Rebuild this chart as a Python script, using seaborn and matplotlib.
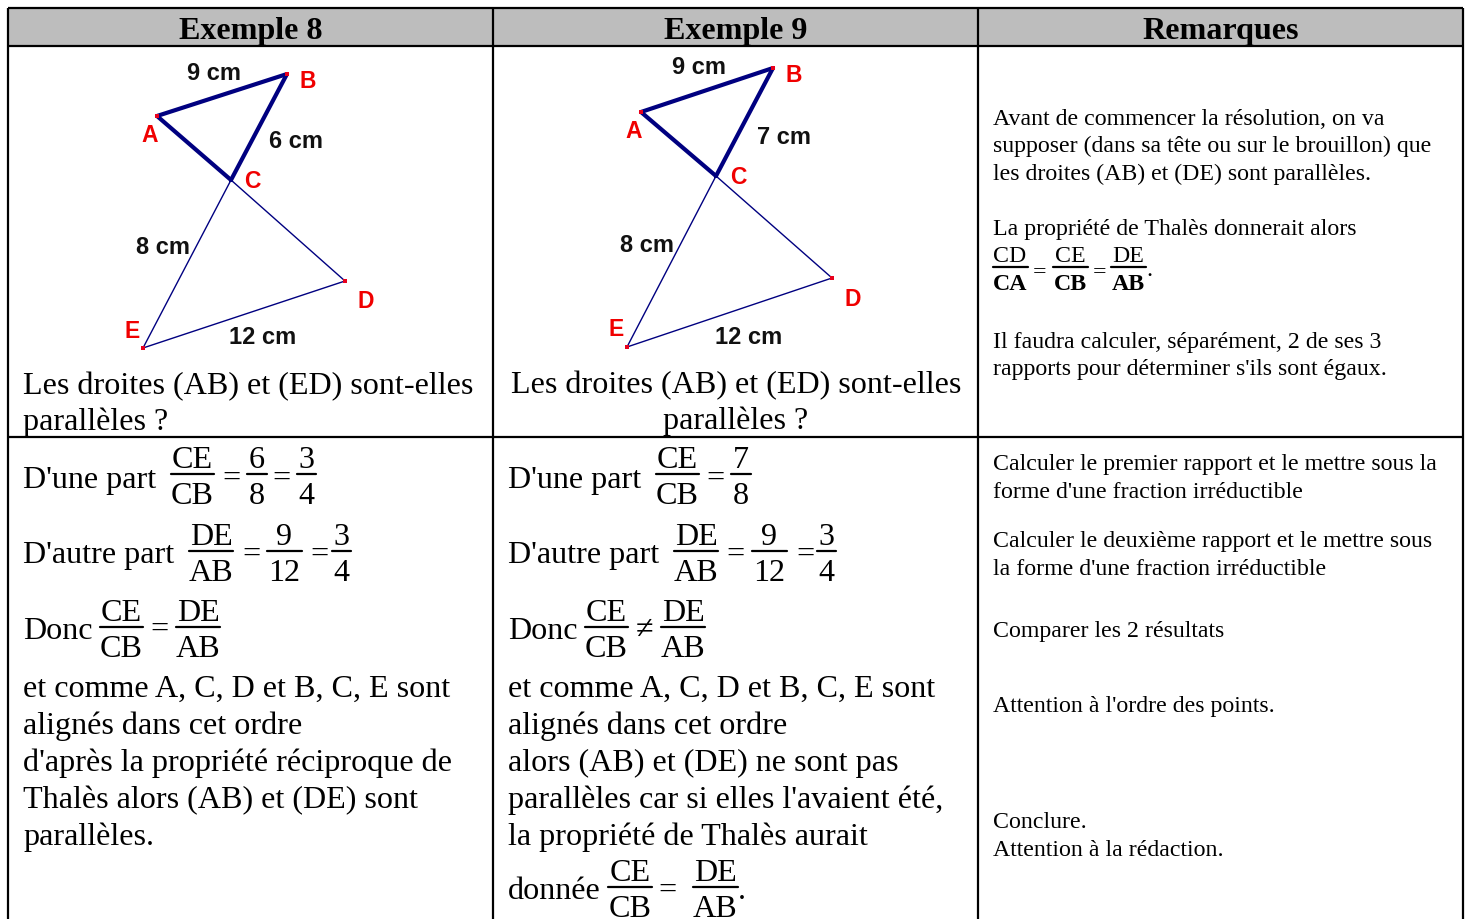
import matplotlib
matplotlib.use('Agg')
import matplotlib.pyplot as plt
import seaborn as sns

#table text
headers = ['Exemple 8', 'Exemple 9', 'Remarques']
question = 'Les droites (AB) et (ED) sont-elles'
question2 = 'parallèles ?'
col1_lines = ['et comme A, C, D et B, C, E sont', 'alignés dans cet ordre',
              "d'après la propriété réciproque de", 'Thalès alors (AB) et (DE) sont', 'parallèles.']
col2_lines = ['et comme A, C, D et B, C, E sont', 'alignés dans cet ordre',
              'alors (AB) et (DE) ne sont pas', "parallèles car si elles l'avaient été,",
              'la propriété de Thalès aurait']
remarks = ['Avant de commencer la résolution, on va',
           'supposer (dans sa tête ou sur le brouillon) que',
           'les droites (AB) et (DE) sont parallèles.',
           'La propriété de Thalès donnerait alors',
           'Il faudra calculer, séparément, 2 de ses 3',
           "rapports pour déterminer s'ils sont égaux.",
           'Calculer le premier rapport et le mettre sous la',
           "forme d'une fraction irréductible",
           'Calculer le deuxième rapport et le mettre sous',
           "la forme d'une fraction irréductible",
           'Comparer les 2 résultats',
           "Attention à l'ordre des points.",
           'Conclure.',
           'Attention à la rédaction.']
remark_y = [125, 152, 180, 235, 348, 375, 470, 498, 547, 575, 637, 712, 828, 856]

#triangle vertices in each figure (A, B, C, D, E)
names = ['A', 'B', 'C', 'D', 'E']
fig8_x = [157, 287, 231, 345, 143]
fig8_y = [116, 74, 180, 281, 348]
fig9_x = [641, 773, 716, 832, 627]
fig9_y = [112, 68, 176, 278, 347]
fig8_name_x = [150, 308, 252, 366, 132]
fig8_name_y = [136, 81, 181, 302, 332]
fig9_name_x = [634, 794, 738, 853, 616]
fig9_name_y = [131, 75, 178, 300, 330]
fig8_lengths = ['9 cm', '6 cm', '8 cm', '12 cm']
fig8_len_x = [214, 296, 163, 263]
fig8_len_y = [73, 141, 248, 338]
fig9_lengths = ['9 cm', '7 cm', '8 cm', '12 cm']
fig9_len_x = [699, 784, 647, 749]
fig9_len_y = [68, 137, 246, 337]

sns.set_theme(style='white')
plt.rcParams['font.family'] = ['Liberation Serif', 'DejaVu Sans']

fig = plt.figure(figsize=(14.79, 9.19), dpi=100)
ax = fig.add_axes([0, 0, 1, 1])
ax.set_xlim(0, 1479)
ax.set_ylim(919, 0)
ax.axis('off')

BIG = 23.1
SMALL = 17.2


def put(x, y, s, size=BIG, **kw):
    ax.text(x, y, s, fontsize=size, color='black', va='baseline', **kw)


def frac(xc, bar, top, bottom, width, size=BIG, dn=30, up=6, weight='normal', lw=1.6):
    #a stacked fraction with its bar
    ax.plot([xc - width / 2, xc + width / 2], [bar, bar], color='black', lw=lw)
    put(xc, bar - up, top, size=size, ha='center')
    put(xc, bar + dn, bottom, size=size, ha='center', weight=weight)


def triangle(xs, ys):
    a, b, c, d, e = range(5)
    for i, j, w in [(a, b, 3.0), (b, c, 3.0), (a, c, 3.0), (c, d, 1.0), (c, e, 1.0), (d, e, 1.0)]:
        sns.lineplot(x=[xs[i], xs[j]], y=[ys[i], ys[j]], ax=ax, color='#000080', lw=w,
                     estimator=None, sort=False, legend=False)
    sns.scatterplot(x=xs, y=ys, ax=ax, color='#e8001c', marker='s', s=9, linewidth=0, zorder=3, legend=False)
    sns.scatterplot(x=[xs[c]], y=[ys[c]], ax=ax, color='#000080', marker='s', s=9, linewidth=0, zorder=4, legend=False)


#table frame
ax.axhspan(8, 46, xmin=8 / 1479, xmax=1463 / 1479, color='#bdbdbd', lw=0)
ax.hlines([8, 46, 437], 8, 1463, color='black', lw=1.6)
ax.vlines([8, 493, 978, 1463], 8, 919, color='black', lw=1.6)

for xc, h in zip([251, 736, 1221], headers):
    put(xc, 39, h, size=BIG, ha='center', weight='bold')

#the two figures
triangle(fig8_x, fig8_y)
triangle(fig9_x, fig9_y)
for nx, ny, lx, ly, lens in [(fig8_name_x, fig8_name_y, fig8_len_x, fig8_len_y, fig8_lengths),
                             (fig9_name_x, fig9_name_y, fig9_len_x, fig9_len_y, fig9_lengths)]:
    for x, y, n in zip(nx, ny, names):
        ax.text(x, y, n, fontsize=16.5, color='#f00000', family='Liberation Sans', weight='bold', ha='center', va='center')
    for x, y, s in zip(lx, ly, lens):
        ax.text(x, y, s, fontsize=17, color='#111111', family='Liberation Sans', weight='bold', ha='center', va='center')

#question under each figure
put(23, 394, question)
put(23, 430, question2)
put(736, 393, question, ha='center')
put(736, 429, question2, ha='center')

#calculations, both columns start the same way
for off in [0, 485]:
    put(23 + off, 488, "D'une part")
    frac(192 + off, 474, 'CE', 'CB', 43)
    put(231 + off, 487, '=', ha='center')
    put(23 + off, 563, "D'autre part")
    frac(211 + off, 551, 'DE', 'AB', 44)
    put(251 + off, 563, '=', ha='center')
    frac(284 + off, 551, '9', '12', 35)
    put(320 + off, 563, '=', ha='center')
    frac(341 + off, 551, '3', '4', 19)
    put(23 + off, 639, 'Donc')
    frac(121 + off, 627, 'CE', 'CB', 43)
    frac(198 + off, 627, 'DE', 'AB', 44)

frac(257, 474, '6', '8', 20)
put(281, 487, '=', ha='center')
frac(306, 474, '3', '4', 19)
frac(741, 474, '7', '8', 20)
put(160, 638, '=', ha='center')
put(645, 638, '≠', ha='center')

for i, s in enumerate(col1_lines):
    put(23, 697 + 37 * i, s)
for i, s in enumerate(col2_lines):
    put(508, 697 + 37 * i, s)

put(508, 899, 'donnée')
frac(630, 887, 'CE', 'CB', 44)
put(668, 899, '=', ha='center')
frac(715, 887, 'DE', 'AB', 45)
put(738, 899, '.')

#remarks column
for y, s in zip(remark_y, remarks):
    put(993, y, s, size=SMALL)

frac(1010, 267, 'CD', 'CA', 35, size=SMALL, dn=23, up=5, weight='bold')
put(1040, 278, '=', size=SMALL, ha='center')
frac(1070, 267, 'CE', 'CB', 35, size=SMALL, dn=23, up=5, weight='bold')
put(1099, 278, '=', size=SMALL, ha='center')
frac(1128, 267, 'DE', 'AB', 35, size=SMALL, dn=23, up=5, weight='bold')
put(1146, 276, '.', size=SMALL)

ax.set_xlim(0, 1479)
ax.set_ylim(919, 0)
plt.savefig('out.png', dpi=100, facecolor='white')
